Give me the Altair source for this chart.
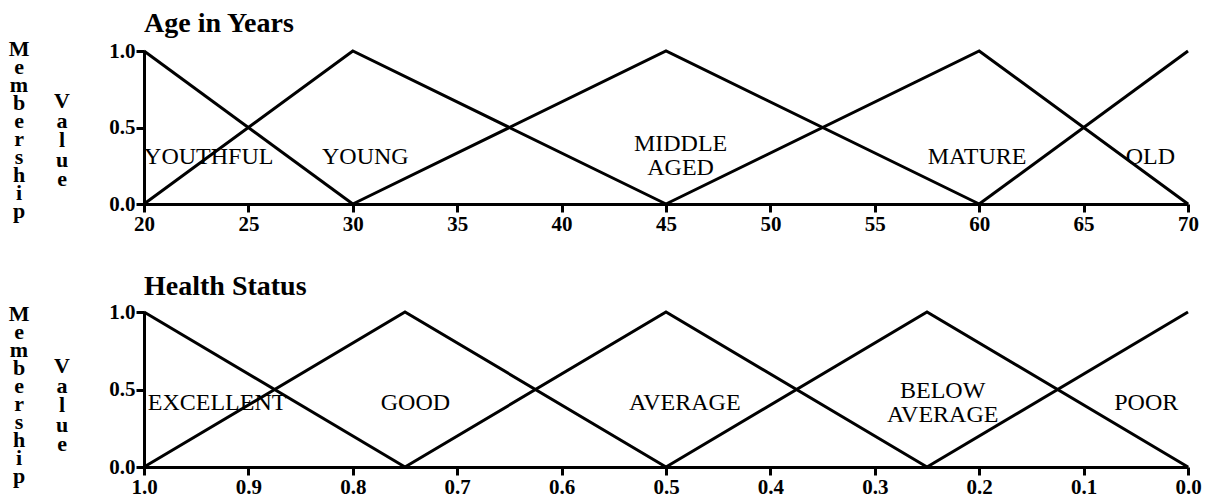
import altair as alt
import pandas as pd

FONT = "Liberation Serif"

# ---------------- data ----------------
age_sets = ["YOUTHFUL", "YOUNG", "MIDDLE AGED", "MATURE", "OLD"]
age_x = [[20, 30], [20, 30, 45], [30, 45, 60], [45, 60, 70], [60, 70]]
age_y = [[1, 0], [0, 1, 0], [0, 1, 0], [0, 1, 0], [0, 1]]
age_label_text = ["YOUTHFUL", "YOUNG", "MIDDLE\nAGED", "MATURE", "OLD"]
age_label_x = [23.1, 30.6, 45.7, 59.9, 68.2]
age_label_y = [0.31, 0.31, 0.39, 0.31, 0.31]
age_ticks = [20, 25, 30, 35, 40, 45, 50, 55, 60, 65, 70]

health_sets = ["EXCELLENT", "GOOD", "AVERAGE", "BELOW AVERAGE", "POOR"]
health_x = [[1.0, 0.75], [1.0, 0.75, 0.5], [0.75, 0.5, 0.25], [0.5, 0.25, 0.0], [0.25, 0.0]]
health_y = [[1, 0], [0, 1, 0], [0, 1, 0], [0, 1, 0], [0, 1]]
health_label_text = ["EXCELLENT", "GOOD", "AVERAGE", "BELOW\nAVERAGE", "POOR"]
health_label_x = [0.93, 0.74, 0.482, 0.235, 0.04]
health_label_y = [0.41, 0.41, 0.41, 0.49, 0.41]
health_ticks = [1.0, 0.9, 0.8, 0.7, 0.6, 0.5, 0.4, 0.3, 0.2, 0.1, 0.0]

y_ticks = [0.0, 0.5, 1.0]

membership_text = "M\ne\nm\nb\ne\nr\ns\nh\ni\np"
value_text = "V\na\nl\nu\ne"


def panel(title, sets, xs, ys, lab_txt, lab_x, lab_y, x_domain, x_reverse,
          x_ticks, x_fmt, height, memb_y, val_y):
    rows = []
    for s, xv, yv in zip(sets, xs, ys):
        for i, (a, b) in enumerate(zip(xv, yv)):
            rows.append({"set": s, "i": i, "x": a, "y": b})
    df_lines = pd.DataFrame(rows)
    df_labels = pd.DataFrame({"t": lab_txt, "x": lab_x, "y": lab_y})

    x_enc = alt.X(
        "x:Q",
        scale=alt.Scale(domain=x_domain, reverse=x_reverse, nice=False, zero=False),
        axis=alt.Axis(values=x_ticks, format=x_fmt, title=None),
    )
    y_enc = alt.Y(
        "y:Q",
        scale=alt.Scale(domain=[0, 1], nice=False),
        axis=alt.Axis(values=y_ticks, format=".1f", title=None),
    )
    lines = alt.Chart(df_lines).mark_line(
        color="black", strokeWidth=3
    ).encode(x=x_enc, y=y_enc, detail="set:N", order="i:Q")

    labels = alt.Chart(df_labels).mark_text(
        font=FONT, fontSize=24, color="black", lineBreak="\n", lineHeight=24
    ).encode(x="x:Q", y="y:Q", text="t:N")

    memb = alt.Chart(pd.DataFrame({"t": [membership_text]})).mark_text(
        font=FONT, fontSize=22, fontWeight="bold", color="black",
        lineBreak="\n", lineHeight=18, align="center", baseline="middle"
    ).encode(x=alt.value(-125), y=alt.value(memb_y), text="t:N")

    val = alt.Chart(pd.DataFrame({"t": [value_text]})).mark_text(
        font=FONT, fontSize=22, fontWeight="bold", color="black",
        lineBreak="\n", lineHeight=19.5, align="center", baseline="middle"
    ).encode(x=alt.value(-82), y=alt.value(val_y), text="t:N")

    return alt.layer(lines, labels, memb, val).properties(
        width=1044,
        height=height,
        title=alt.TitleParams(
            text=title, anchor="start", frame="group", font=FONT, fontSize=28,
            fontWeight="bold", color="black", offset=0
        ),
    )


top = panel("Age in Years", age_sets, age_x, age_y, age_label_text,
            age_label_x, age_label_y, [20, 70], False, age_ticks, "d",
            153, -2, 50)
bottom = panel("Health Status", health_sets, health_x, health_y,
               health_label_text, health_label_x, health_label_y, [0, 1],
               True, health_ticks, ".1f", 155, 2, 54)

chart = alt.vconcat(top, bottom, spacing=39).properties(
    padding={"left": 0, "right": 0, "top": 2, "bottom": 0}
).configure_view(stroke=None).configure_axis(
    domainColor="black", domainWidth=3, tickColor="black", tickWidth=3,
    tickSize=8, labelFont=FONT, labelFontWeight="bold", labelFontSize=21,
    labelColor="black", labelPadding=1, grid=False, labelFlush=False,
    labelOverlap=False
)

chart.save("out.html", embed_options={"renderer": "svg", "actions": False})
